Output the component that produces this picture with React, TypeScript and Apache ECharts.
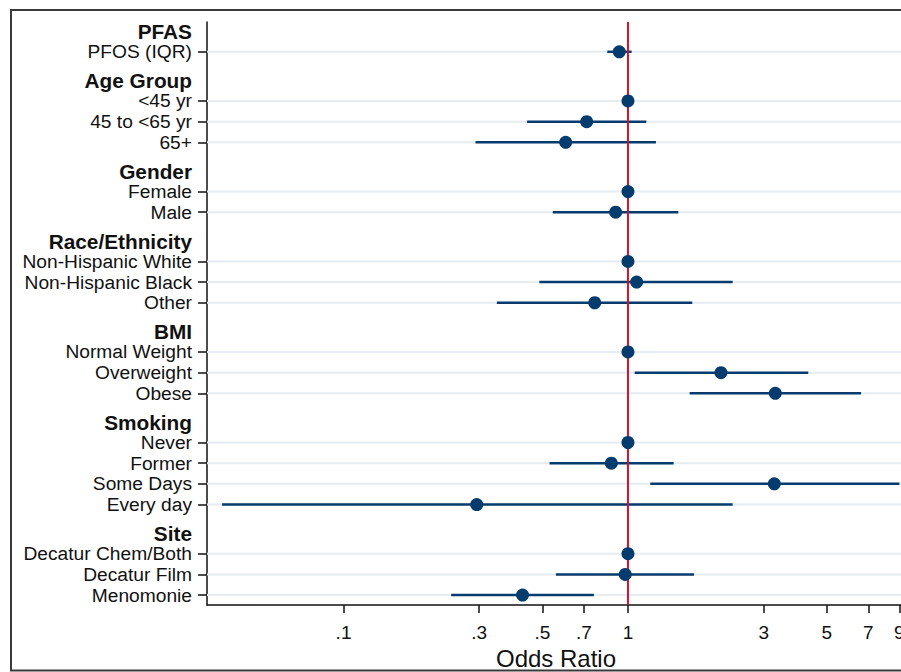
import React, { useEffect, useRef } from "react";
import * as echarts from "echarts";

const groups = ["PFAS", "Age Group", "Gender", "Race/Ethnicity", "BMI", "Smoking", "Site"];
const groupSizes = [1, 3, 2, 3, 3, 4, 3];
const rowLabels = [
  "PFOS (IQR)",
  "<45 yr", "45 to <65 yr", "65+",
  "Female", "Male",
  "Non-Hispanic White", "Non-Hispanic Black", "Other",
  "Normal Weight", "Overweight", "Obese",
  "Never", "Former", "Some Days", "Every day",
  "Decatur Chem/Both", "Decatur Film", "Menomonie",
];
const oddsRatio = [0.932, 1, 0.716, 0.604, 1, 0.905, 1, 1.073, 0.764, 1, 2.123, 3.296, 1, 0.874, 3.27, 0.294, 1, 0.978, 0.426];
const ciLower = [0.846, null, 0.442, 0.291, null, 0.544, null, 0.488, 0.346, null, 1.056, 1.648, null, 0.53, 1.198, 0.0374, null, 0.558, 0.239];
const ciUpper = [1.03, null, 1.16, 1.254, null, 1.503, null, 2.334, 1.683, null, 4.305, 6.6, null, 1.447, 9.0, 2.334, null, 1.707, 0.759];
const xTicks = [0.1, 0.3, 0.5, 0.7, 1, 3, 5, 7, 9];
const xTickLabels = [".1", ".3", ".5", ".7", "1", "3", "5", "7", "9"];
const referenceValue = 1;

const FONT = "'Liberation Sans', Arial, Helvetica, sans-serif";
const NAVY = "#063b6d";
const RED = "#d5112e";
const GRID_COLOR = "#e5ecf2";
const INK = "#111111";

// layout of rows (in row units)
const GROUP_GAP = 2.38;
const HEADER_OFFSET = 0.98;
const rowPos: number[] = [];
const headerPos: number[] = [];
{
  let p = 0;
  groupSizes.forEach((n, g) => {
    if (g > 0) p += GROUP_GAP - 1;
    headerPos.push(p - HEADER_OFFSET);
    for (let i = 0; i < n; i++) {
      rowPos.push(p);
      p += 1;
    }
  });
}
const yMin = rowPos[0] - 1.44;
const yMax = rowPos[rowPos.length - 1] + 0.48;
const xMin = Math.pow(10, -1.48);
const xMax = Math.pow(10, 0.974);

const labelEntries: { pos: number; text: string }[] = [
  ...headerPos.map((p, i) => ({ pos: p, text: "{h|" + groups[i] + "}" })),
  ...rowPos.map((p, i) => ({ pos: p, text: rowLabels[i] })),
];

function yLabel(v: number): string {
  let best = "";
  let bd = Infinity;
  for (const e of labelEntries) {
    const d = Math.abs(e.pos - v);
    if (d < bd) {
      bd = d;
      best = e.text;
    }
  }
  return bd < 0.05 ? best : "";
}

function xLabel(v: number): string {
  let best = "";
  let bd = Infinity;
  xTicks.forEach((t, i) => {
    const d = Math.abs(Math.log10(t) - Math.log10(v));
    if (d < bd) {
      bd = d;
      best = xTickLabels[i];
    }
  });
  return bd < 0.01 ? best : "";
}

export default function App() {
  const ref = useRef<HTMLDivElement>(null);
  useEffect(() => {
    if (!ref.current) return;
    const chart = echarts.init(ref.current, undefined, { renderer: "svg" });

    const ciData: number[][] = [];
    rowPos.forEach((p, i) => {
      const lo = ciLower[i];
      const hi = ciUpper[i];
      if (lo != null && hi != null) ciData.push([lo, hi, p]);
    });
    const pointData = rowPos.map((p, i) => [oddsRatio[i], p]);
    const gridData = rowPos.map((p) => [referenceValue, p]);

    chart.setOption({
      animation: false,
      textStyle: { fontFamily: FONT },
      grid: { left: 207, top: 22, width: 698, height: 583, containLabel: false, outerBoundsMode: "none" },
      xAxis: {
        type: "log",
        logBase: 10,
        min: xMin,
        max: xMax,
        name: "Odds Ratio",
        nameLocation: "middle",
        nameGap: 34,
        nameTextStyle: { fontSize: 24, color: INK, fontFamily: FONT },
        axisLine: { show: true, onZero: false, lineStyle: { color: INK, width: 1.5 } },
        axisTick: { show: true, customValues: xTicks, length: 8, lineStyle: { color: INK, width: 1.5 } },
        axisLabel: { customValues: xTicks, formatter: (v: number) => xLabel(v), fontSize: 19, color: INK, margin: 18, fontFamily: FONT },
        splitLine: { show: false },
        minorTick: { show: false },
      },
      yAxis: {
        type: "value",
        inverse: true,
        min: yMin,
        max: yMax,
        axisLine: { show: true, onZero: false, lineStyle: { color: INK, width: 1.5 } },
        axisTick: { show: true, customValues: rowPos, length: 9, lineStyle: { color: INK, width: 1.5 } },
        axisLabel: {
          customValues: labelEntries.map((e) => e.pos),
          formatter: (v: number) => yLabel(v),
          fontSize: 19.2,
          lineHeight: 19,
          color: INK,
          margin: 15,
          fontFamily: FONT,
          rich: { h: { fontWeight: "bold", fontSize: 20.8, lineHeight: 19, color: INK, fontFamily: FONT } },
        },
        splitLine: { show: false },
      },
      graphic: [
        {
          type: "rect",
          shape: { x: 11, y: 10, width: 900, height: 660.5 },
          style: { fill: "none", stroke: "#3a3a3a", lineWidth: 2 },
          z: 100,
          silent: true,
        },
      ],
      series: [
        {
          type: "custom",
          z: 1,
          silent: true,
          data: gridData,
          encode: { x: 0, y: 1 },
          renderItem: (params: any, api: any) => {
            const cs = params.coordSys;
            const y = api.coord([api.value(0), api.value(1)])[1];
            return {
              type: "line",
              shape: { x1: cs.x, y1: y, x2: cs.x + cs.width, y2: y },
              style: { stroke: GRID_COLOR, lineWidth: 2 },
            };
          },
        },
        {
          type: "custom",
          z: 2,
          silent: true,
          data: ciData,
          encode: { x: [0, 1], y: 2 },
          renderItem: (params: any, api: any) => {
            const a = api.coord([api.value(0), api.value(2)]);
            const b = api.coord([api.value(1), api.value(2)]);
            return {
              type: "line",
              shape: { x1: a[0], y1: a[1], x2: b[0], y2: b[1] },
              style: { stroke: NAVY, lineWidth: 2.5 },
            };
          },
        },
        {
          type: "custom",
          z: 3,
          silent: true,
          data: [[referenceValue, 0]],
          encode: { x: 0, y: 1 },
          renderItem: (params: any, api: any) => {
            const cs = params.coordSys;
            const x = api.coord([api.value(0), api.value(1)])[0];
            return {
              type: "line",
              shape: { x1: x, y1: cs.y, x2: x, y2: cs.y + cs.height },
              style: { stroke: RED, lineWidth: 2 },
            };
          },
        },
        {
          type: "scatter",
          z: 4,
          data: pointData,
          symbol: "circle",
          symbolSize: 13,
          itemStyle: { color: NAVY, opacity: 1 },
          silent: true,
        },
      ],
    });
    return () => chart.dispose();
  }, []);
  return <div ref={ref} style={{ position: "fixed", left: 0, top: 0, width: 901, height: 672, background: "#fff" }} />;
}
